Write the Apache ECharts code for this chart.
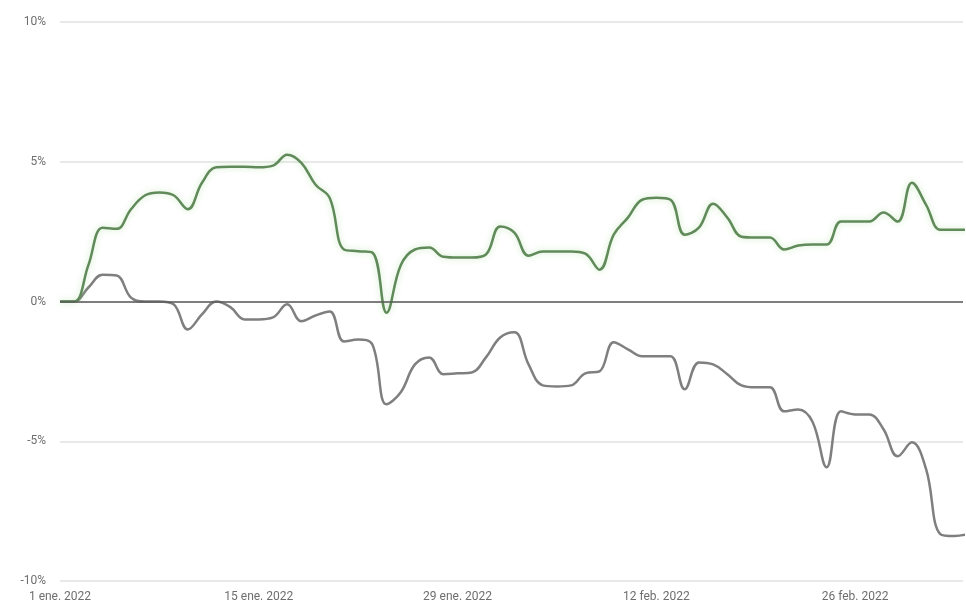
<!DOCTYPE html>
<html>
<head>
<meta charset="utf-8">
<script src="https://cdn.jsdelivr.net/npm/echarts@6/dist/echarts.min.js"></script>
<style>html,body{margin:0;padding:0;background:#fff}#c{width:966px;height:605px}</style>
</head>
<body>
<div id="c"></div>
<script>
// Days since 1 ene. 2022 (one point per day)
const dayIndex = [];
for (let i = 0; i <= 64; i++) dayIndex.push(i);

const tickLabels = ['1 ene. 2022', '15 ene. 2022', '29 ene. 2022', '12 feb. 2022', '26 feb. 2022'];
const yTickLabels = ['-10%', '-5%', '0%', '5%', '10%'];

// % change series
const greenSeries = [0, 0, 1.3, 2.64, 2.6, 3.3, 3.8, 3.9, 3.8, 3.3,
  4.25, 4.8, 4.82, 4.82, 4.8, 4.86, 5.25, 4.96, 4.18, 3.7,
  1.86, 1.8, 1.75, -0.4, 1.3, 1.86, 1.93, 1.6, 1.57, 1.57,
  1.68, 2.68, 2.46, 1.64, 1.79, 1.79, 1.79, 1.71, 1.14, 2.39,
  3.0, 3.64, 3.71, 3.64, 2.39, 2.64, 3.5, 3.0, 2.32, 2.29,
  2.29, 1.86, 2.0, 2.04, 2.04, 2.86, 2.86, 2.86, 3.18, 2.86,
  4.25, 3.46, 2.57, 2.57, 2.57];

const graySeries = [0, 0, 0.5, 0.96, 0.93, 0.14, 0, 0, -0.1, -1.0,
  -0.46, 0, -0.2, -0.64, -0.64, -0.57, -0.1, -0.71, -0.5, -0.36,
  -1.43, -1.36, -1.54, -3.68, -3.25, -2.25, -2.0, -2.6, -2.57, -2.54,
  -2.0, -1.29, -1.1, -2.25, -3.0, -3.04, -3.0, -2.57, -2.5, -1.46,
  -1.71, -1.96, -1.96, -1.96, -3.14, -2.18, -2.25, -2.6, -3.0, -3.07,
  -3.07, -3.93, -3.86, -4.3, -5.93, -3.93, -4.04, -4.04, -4.57, -5.54,
  -5.04, -6.0, -8.32, -8.39, -8.32];

const chart = echarts.init(document.getElementById('c'));
chart.setOption({
  animation: false,
  backgroundColor: '#ffffff',
  grid: { left: 60, right: 0, top: 22, bottom: 24, containLabel: false },
  xAxis: {
    type: 'value',
    min: 0, max: 63.6, interval: 14,
    axisLine: { show: false },
    axisTick: { show: false },
    splitLine: { show: false },
    axisLabel: {
      color: '#6e6e6e', fontSize: 12, margin: 10, fontFamily: 'Roboto, Arial, sans-serif',
      formatter: v => (v % 14 === 0 && tickLabels[v / 14]) ? tickLabels[v / 14] : ''
    }
  },
  yAxis: {
    type: 'value',
    min: -10, max: 10, interval: 5,
    axisLine: { show: false },
    axisTick: { show: false },
    splitLine: { lineStyle: { color: '#e2e2e2', width: 1.5 } },
    axisLabel: {
      color: '#6e6e6e', fontSize: 12, margin: 14, fontFamily: 'Roboto, Arial, sans-serif',
      formatter: v => yTickLabels[(v + 10) / 5]
    }
  },
  series: [
    {
      type: 'line', name: 'zero', silent: true, symbol: 'none',
      data: [], markLine: {
        silent: true, symbol: 'none', label: { show: false },
        lineStyle: { color: '#5a5a5a', width: 1.5, type: 'solid' },
        data: [{ yAxis: 0 }]
      }
    },
    {
      type: 'line', name: 'gray', symbol: 'none', smooth: 0.4,
      data: dayIndex.map((d, i) => [d, graySeries[i]]),
      lineStyle: { color: '#7f7f7f', width: 2.5 },
      z: 3
    },
    {
      type: 'line', name: 'green', symbol: 'none', smooth: 0.4,
      data: dayIndex.map((d, i) => [d, greenSeries[i]]),
      lineStyle: { color: '#608a5a', width: 2.5, shadowColor: 'rgba(140,210,120,0.45)', shadowBlur: 6 },
      z: 4
    }
  ]
});
</script>
</body>
</html>
